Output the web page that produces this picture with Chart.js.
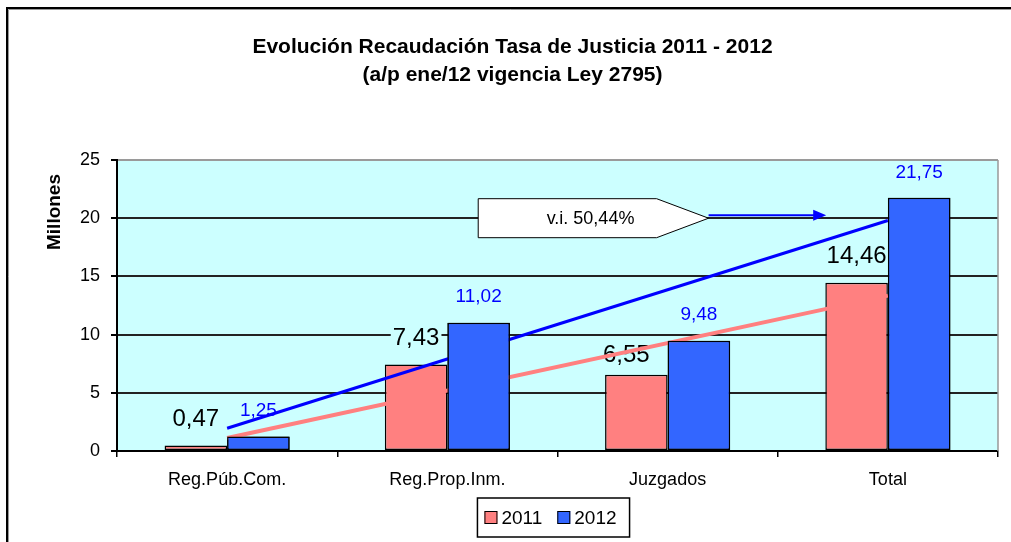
<!DOCTYPE html>
<html>
<head>
<meta charset="utf-8">
<script src="https://cdn.jsdelivr.net/npm/chart.js@4.4.1/dist/chart.umd.min.js"></script>
<style>
html,body{margin:0;padding:0;background:#fff;}
#wrap{width:1011px;height:542px;position:relative;}
</style>
</head>
<body>
<div id="wrap"><canvas id="c" width="1011" height="542"></canvas></div>
<script>
// ---- data ----
const categories = ['Reg.Púb.Com.', 'Reg.Prop.Inm.', 'Juzgados', 'Total'];
const seriesNames = ['2011', '2012'];
const values2011 = [0.47, 7.43, 6.55, 14.46];
const values2012 = [1.25, 11.02, 9.48, 21.75];
const trend2012 = [1.95, null, null, 19.8];
const trend2011 = [1.12, null, null, 13.35];
const yTicks = [0, 5, 10, 15, 20, 25];
const titleLines = ['Evolución Recaudación Tasa de Justicia 2011 - 2012', '(a/p ene/12 vigencia Ley 2795)'];
const yAxisTitle = 'Millones';
const calloutText = 'v.i. 50,44%';

const FONT = "'Liberation Sans', Arial, Helvetica, sans-serif";
const COL2011 = '#FF8080';
const COL2012 = '#3366FF';
const PLOT_BG = '#CCFFFF';
// small manual nudges of individual 2011 labels (dx, dy in px), as in the original
const nudge2011 = [[0, 0], [0, 0], [-10, 7], [0, 0]];

function fmt(v) { return v.toFixed(2).replace('.', ','); }

const deco = {
  id: 'deco',
  beforeDraw(chart) {
    const c = chart.ctx, a = chart.chartArea;
    c.save();
    c.fillStyle = '#fff';
    c.fillRect(0, 0, chart.width, chart.height);
    // outer frame (continues past right / bottom edges)
    c.strokeStyle = '#000'; c.lineWidth = 2;
    c.beginPath(); c.moveTo(7, chart.height + 10); c.lineTo(7, 8); c.lineTo(chart.width + 10, 8); c.stroke();
    c.strokeStyle = '#999'; c.lineWidth = 1;
    c.beginPath(); c.moveTo(8.5, chart.height + 10); c.lineTo(8.5, 9.5); c.lineTo(chart.width + 10, 9.5); c.stroke();
    // plot background
    c.fillStyle = PLOT_BG;
    c.fillRect(a.left, a.top, a.right - a.left, a.bottom - a.top);
    // titles
    c.fillStyle = '#000';
    c.font = 'bold 21px ' + FONT;
    c.textAlign = 'center'; c.textBaseline = 'middle';
    const cx = chart.width / 2 + 7;
    c.fillText(titleLines[0], cx, 47);
    c.fillText(titleLines[1], cx, 75);
    // y axis title
    c.save();
    c.translate(55, a.top + 52);
    c.rotate(-Math.PI / 2);
    c.font = 'bold 19px ' + FONT;
    c.fillText(yAxisTitle, 0, 0);
    c.restore();
    c.restore();
  },
  beforeDatasetsDraw(chart) {
    const c = chart.ctx, a = chart.chartArea;
    c.save();
    // right border of plot
    c.strokeStyle = '#999'; c.lineWidth = 1.5;
    c.beginPath(); c.moveTo(a.right, a.top); c.lineTo(a.right, a.bottom); c.stroke();
    // data labels (under the marks)
    const specs = [
      { ds: 0, vals: values2011, font: '24px ' + FONT, color: '#000', off: 26.5, h: 22, nudge: nudge2011 },
      { ds: 1, vals: values2012, font: '19px ' + FONT, color: '#0000FF', off: 25.5, h: 18, nudge: null }
    ];
    c.textAlign = 'center'; c.textBaseline = 'middle';
    specs.forEach(s => {
      const meta = chart.getDatasetMeta(s.ds);
      c.font = s.font;
      meta.data.forEach((el, i) => {
        const t = fmt(s.vals[i]);
        const n = s.nudge ? s.nudge[i] : [0, 0];
        const x = el.x + n[0];
        const y = el.y - s.off + n[1];
        const w = c.measureText(t).width;
        c.fillStyle = PLOT_BG;
        c.fillRect(x - w / 2 - 2, y - s.h / 2, w + 4, s.h);
        c.fillStyle = s.color;
        c.fillText(t, x, y);
      });
    });
    c.restore();
  },
  afterDatasetsDraw(chart) {
    const c = chart.ctx;
    // 2012 bars sit in front of the trend lines
    chart.getDatasetMeta(1).data.forEach(el => el.draw(c, chart.chartArea));
    // callout
    const xs = chart.scales.x, ys = chart.scales.y;
    const cw = xs.getPixelForValue(1) - xs.getPixelForValue(0);
    const ym = ys.getPixelForValue(20);
    const left = xs.getPixelForValue(1) + 0.14 * cw;
    const bodyR = xs.getPixelForValue(2) - 0.05 * cw;
    const tip = xs.getPixelForValue(2) + 0.186 * cw;
    const hh = 19.5;
    c.save();
    c.fillStyle = '#fff'; c.strokeStyle = '#000'; c.lineWidth = 1;
    c.beginPath();
    c.moveTo(left, ym - hh); c.lineTo(bodyR, ym - hh); c.lineTo(tip, ym);
    c.lineTo(bodyR, ym + hh); c.lineTo(left, ym + hh); c.closePath();
    c.fill(); c.stroke();
    c.fillStyle = '#000'; c.font = '18px ' + FONT;
    c.textAlign = 'center'; c.textBaseline = 'middle';
    c.fillText(calloutText, xs.getPixelForValue(1) + 0.65 * cw, ym + 1);
    // arrow
    const ay = ym - 3;
    const aEnd = xs.getPixelForValue(3) - 0.28 * cw;
    c.strokeStyle = '#0000FF'; c.fillStyle = '#0000FF'; c.lineWidth = 2;
    c.beginPath(); c.moveTo(tip, ay); c.lineTo(aEnd - 10, ay); c.stroke();
    c.beginPath(); c.moveTo(aEnd, ay); c.lineTo(aEnd - 13, ay - 5.5); c.lineTo(aEnd - 13, ay + 5.5); c.closePath(); c.fill();
    c.restore();
  },
  afterDraw(chart) {
    const c = chart.ctx, a = chart.chartArea;
    // legend
    c.save();
    c.font = '19px ' + FONT;
    const items = [{ t: seriesNames[0], col: COL2011 }, { t: seriesNames[1], col: COL2012 }];
    let total = 7;
    items.forEach((it, i) => { total += 17 + c.measureText(it.t).width + (i < items.length - 1 ? 15 : 13); });
    const boxL = (a.left + a.right) / 2 - 4 - total / 2;
    const boxT = 498, boxH = 39;
    c.fillStyle = '#fff'; c.fillRect(boxL, boxT, total, boxH);
    c.strokeStyle = '#000'; c.lineWidth = 1.5;
    c.strokeRect(boxL, boxT, total, boxH);
    let x = boxL + 7;
    const my = boxT + boxH / 2;
    c.textAlign = 'left'; c.textBaseline = 'middle';
    items.forEach(it => {
      c.fillStyle = it.col; c.fillRect(x, my - 6.5, 13, 13);
      c.strokeStyle = '#000'; c.lineWidth = 1; c.strokeRect(x + 0.5, my - 6, 12, 12);
      c.fillStyle = '#000';
      c.fillText(it.t, x + 17, my + 1);
      x += 17 + c.measureText(it.t).width + 15;
    });
    c.restore();
  }
};

const barCommon = { borderColor: '#000', borderWidth: 1.5, barPercentage: 1.0, categoryPercentage: 0.568, borderSkipped: false };

new Chart(document.getElementById('c'), {
  type: 'bar',
  data: {
    labels: categories,
    datasets: [
      Object.assign({ label: seriesNames[0], data: values2011, backgroundColor: COL2011, order: 1 }, barCommon),
      Object.assign({ label: seriesNames[1], data: values2012, backgroundColor: COL2012, order: 2 }, barCommon),
      { type: 'line', label: 'trend 2012', data: trend2012, borderColor: '#0000FF', borderWidth: 3, pointRadius: 0, spanGaps: true, order: 0, fill: false, tension: 0 },
      { type: 'line', label: 'trend 2011', data: trend2011, borderColor: '#FF8080', borderWidth: 4, pointRadius: 0, spanGaps: true, order: 0, fill: false, tension: 0 }
    ]
  },
  options: {
    responsive: false,
    animation: false,
    devicePixelRatio: 1,
    layout: { padding: { left: 40, right: 13, top: 160, bottom: 41 } },
    plugins: { legend: { display: false }, title: { display: false }, tooltip: { enabled: false } },
    scales: {
      x: {
        grid: { display: true, drawOnChartArea: false, drawTicks: true, tickLength: 6, color: '#000', lineWidth: 1.5, offset: true },
        border: { display: true, color: '#000', width: 2 },
        ticks: { font: { family: FONT, size: 18 }, color: '#000', padding: 12, maxRotation: 0, autoSkip: false },
        afterFit(s) { s.height = 50; }
      },
      y: {
        min: 0, max: 25,
        afterBuildTicks(s) { s.ticks = yTicks.map(v => ({ value: v })); },
        grid: {
          color: ctx => (ctx.tick && ctx.tick.value === 25 ? '#9a9a9a' : '#222'),
          tickColor: '#000', lineWidth: 2, tickLength: 6, drawTicks: true
        },
        border: { display: true, color: '#000', width: 2 },
        ticks: { font: { family: FONT, size: 18 }, color: '#000', padding: 11 },
        afterFit(s) { s.width = 77; }
      }
    }
  },
  plugins: [deco]
});
</script>
</body>
</html>
